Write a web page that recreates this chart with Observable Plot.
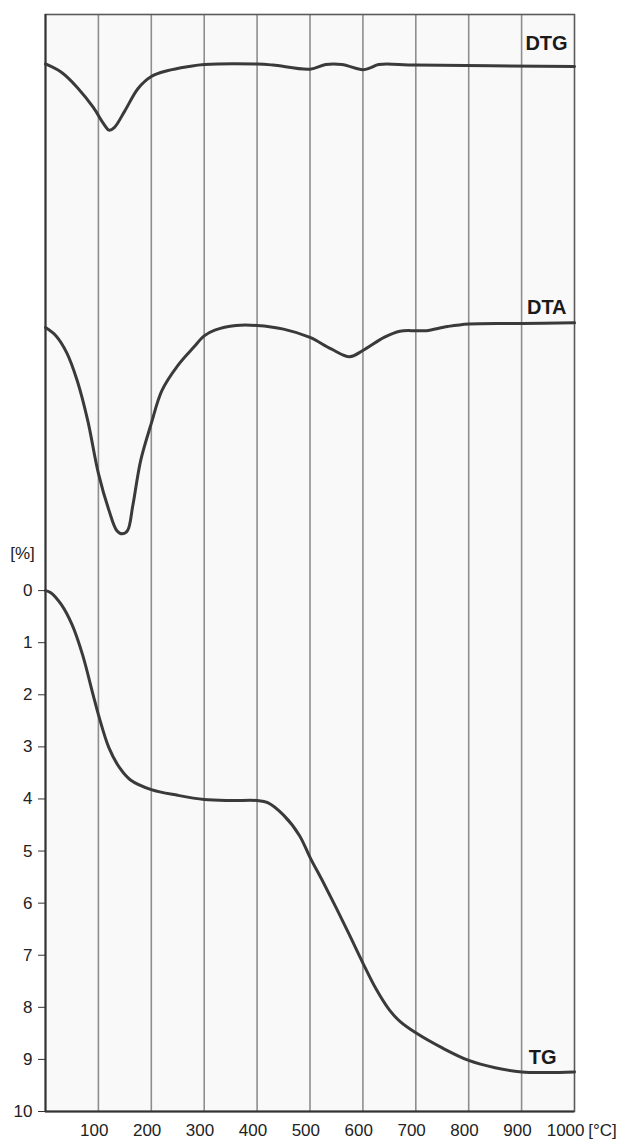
<!DOCTYPE html>
<html><head><meta charset="utf-8">
<script src="https://cdn.jsdelivr.net/npm/d3@7"></script>
<script src="https://cdn.jsdelivr.net/npm/@observablehq/plot@0.6"></script>
<style>
html,body{margin:0;padding:0;background:#fff;}
#chart svg{display:block;font-family:"Liberation Sans",Arial,Helvetica,sans-serif;}
</style></head><body><div id="chart"></div>
<script>
// Temperature [°C] and curve values (TG in %, DTG/DTA in arbitrary offsets on the same axis)
const dtgT = [0,30,60,90,110,120,130,150,175,200,230,270,300,400,430,500,530,560,600,615,630,700,1000];
const dtgV = [-10.11,-9.95,-9.66,-9.28,-8.96,-8.84,-8.89,-9.21,-9.64,-9.87,-9.98,-10.06,-10.10,-10.11,-10.09,-10.01,-10.10,-10.10,-10.00,-10.04,-10.10,-10.09,-10.06];

const dtaT = [0,20,40,60,80,100,120,135,145,155,165,180,200,220,250,280,300,320,360,400,450,500,540,575,600,640,670,700,720,760,800,900,1000];
const dtaV = [-5.05,-4.89,-4.57,-4.03,-3.26,-2.25,-1.54,-1.15,-1.09,-1.15,-1.63,-2.50,-3.21,-3.84,-4.32,-4.67,-4.89,-5.00,-5.09,-5.09,-5.02,-4.86,-4.64,-4.49,-4.61,-4.86,-4.98,-4.99,-4.99,-5.07,-5.12,-5.13,-5.14];

const tgT = [0,10,30,50,70,90,100,120,140,160,200,250,300,350,400,420,450,480,500,525,550,575,600,625,650,670,700,750,800,850,900,950,1000];
const tgV = [0,0.04,0.27,0.65,1.23,2.0,2.38,3.02,3.40,3.63,3.82,3.93,4.01,4.03,4.03,4.07,4.31,4.70,5.12,5.60,6.10,6.62,7.15,7.65,8.05,8.27,8.49,8.78,9.02,9.16,9.24,9.25,9.24];

const xTicks = [100,200,300,400,500,600,700,800,900,1000];
const gridT = [100,200,300,400,500,600,700,800,900];
const yTicks = [0,1,2,3,4,5,6,7,8,9,10];

const labelNames = ["DTG","DTA","TG"];
const labelT = [987,985,966];
const labelV = [-10.5,-5.44,8.96];

const yUnit = "[%]";
const xUnit = "[°C]";

const dtg = dtgT.map((t,i)=>({t, v:dtgV[i]}));
const dta = dtaT.map((t,i)=>({t, v:dtaV[i]}));
const tg = tgT.map((t,i)=>({t, v:tgV[i]}));
const labels = labelNames.map((s,i)=>({s, t:labelT[i], v:labelV[i]}));

const lineStyle = {x:"t", y:"v", curve:"catmull-rom", stroke:"#3a3a3a", strokeWidth:3, strokeLinejoin:"round", strokeLinecap:"round"};
const fmt = d => String(d);

const chart = Plot.plot({
  width: 621,
  height: 1142,
  marginTop: 14,
  marginBottom: 31,
  marginLeft: 45,
  marginRight: 47,
  style: {fontSize: "17px", fontFamily: '"Liberation Sans",Arial,sans-serif', color:"#222", background:"#fff"},
  x: {domain: [0,1000]},
  y: {domain: [-11.06,10], reverse: true},
  marks: [
    Plot.frame({fill:"#f9f9f9", stroke:null}),
    Plot.ruleX(gridT, {stroke:"#8e8e8e", strokeWidth:1.6}),
    Plot.frame({stroke:"#5a5a5a", strokeWidth:1.6}),
    Plot.ruleX([0], {stroke:"#333", strokeWidth:2}),
    Plot.ruleY([10], {stroke:"#333", strokeWidth:2}),
    Plot.line(dtg, lineStyle),
    Plot.line(dta, lineStyle),
    Plot.line(tg, lineStyle),
    Plot.text(labels, {x:"t", y:"v", text:"s", textAnchor:"end", fontWeight:"bold", fontSize:20, fill:"#1a1a1a"}),
    Plot.axisY(yTicks, {tickSize:7, tickPadding:6, fontSize:17, label:null, stroke:"#333", fill:"#222", tickFormat: fmt}),
    Plot.axisX(xTicks, {tickSize:0, tickPadding:12, fontSize:17, label:null, textAnchor:"end", dx:10, fill:"#222", tickFormat: fmt}),
    Plot.text([{s:yUnit, t:0, v:0}], {x:"t", y:"v", text:"s", dx:-23, dy:-37, fontSize:17, fill:"#222"}),
    Plot.text([{s:xUnit, t:1000, v:10}], {x:"t", y:"v", text:"s", dx:28, dy:19, fontSize:17, fill:"#222"})
  ]
});
document.getElementById("chart").appendChild(chart);
</script>
</body></html>
